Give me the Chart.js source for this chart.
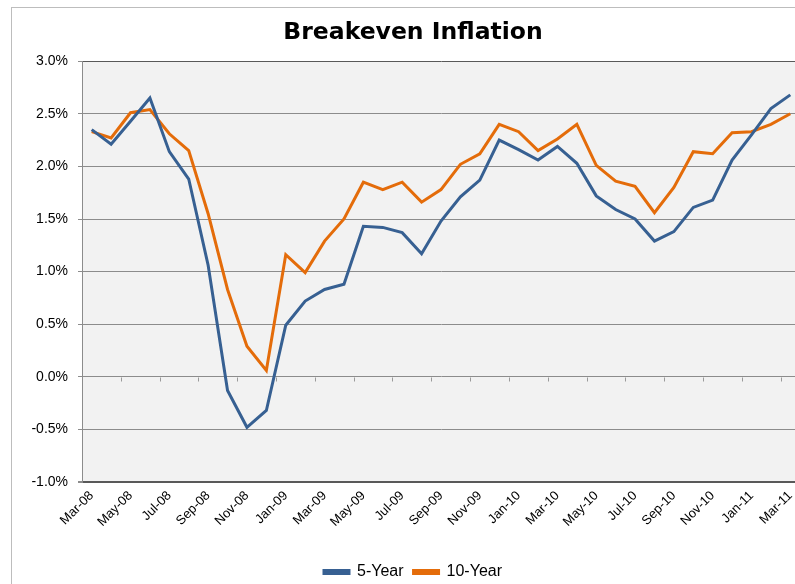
<!DOCTYPE html>
<html lang="en">
<head>
    <meta charset="UTF-8">
    <title>Breakeven Inflation</title>
    <script src="https://cdn.jsdelivr.net/npm/chart.js"></script>
    <style>
        html, body { margin: 0; padding: 0; background: #fff; overflow: hidden; }
        #frame {
            position: absolute; left: 11px; top: 7px; width: 900px; height: 700px;
            border-left: 1.5px solid #bdbdbd; border-top: 1.5px solid #bdbdbd;
        }
        #wrap { position: absolute; left: 0; top: 0; width: 810px; height: 584px; }
    </style>
</head>
<body>
    <div id="frame"></div>
    <div id="wrap"><canvas id="chart"></canvas></div>

    <script>
        // months Mar-08 .. Mar-11
        const months = ['Mar-08','Apr-08','May-08','Jun-08','Jul-08','Aug-08','Sep-08','Oct-08','Nov-08','Dec-08',
            'Jan-09','Feb-09','Mar-09','Apr-09','May-09','Jun-09','Jul-09','Aug-09','Sep-09','Oct-09','Nov-09','Dec-09',
            'Jan-10','Feb-10','Mar-10','Apr-10','May-10','Jun-10','Jul-10','Aug-10','Sep-10','Oct-10','Nov-10','Dec-10',
            'Jan-11','Feb-11','Mar-11'];

        const fiveYear = [2.35, 2.21, 2.43, 2.65, 2.14, 1.88, 1.06, -0.13, -0.48, -0.32,
            0.49, 0.72, 0.83, 0.88, 1.43, 1.42, 1.37, 1.17, 1.48, 1.71, 1.87, 2.25,
            2.16, 2.06, 2.19, 2.03, 1.72, 1.59, 1.50, 1.29, 1.38, 1.61, 1.68, 2.06,
            2.30, 2.55, 2.68];

        const tenYear = [2.33, 2.27, 2.51, 2.54, 2.31, 2.15, 1.55, 0.83, 0.29, 0.06,
            1.16, 0.99, 1.29, 1.50, 1.85, 1.78, 1.85, 1.66, 1.78, 2.02, 2.12, 2.40,
            2.33, 2.15, 2.26, 2.40, 2.01, 1.86, 1.81, 1.56, 1.80, 2.14, 2.12, 2.32,
            2.33, 2.40, 2.50];

        const yMin = -1.0, yMax = 3.0, yStep = 0.5;

        // grey plot background + tick marks on the zero line
        const plotDecor = {
            id: 'plotDecor',
            beforeDraw(chart) {
                const { ctx, chartArea: a } = chart;
                ctx.save();
                ctx.fillStyle = '#f2f2f2';
                ctx.fillRect(a.left, a.top, a.right - a.left, a.bottom - a.top);
                ctx.restore();
            },
            afterDatasetsDraw(chart) {
                const { ctx, scales } = chart;
                const x = scales.x, y = scales.y;
                const y0 = Math.round(y.getPixelForValue(0)) + 0.5;
                const half = (x.getPixelForValue(1) - x.getPixelForValue(0)) / 2;
                ctx.save();
                ctx.strokeStyle = '#9a9a9a';
                ctx.lineWidth = 1;
                for (let i = 2; i < months.length; i += 2) {
                    const px = Math.round(x.getPixelForValue(i) - half) + 0.5;
                    ctx.beginPath();
                    ctx.moveTo(px, y0);
                    ctx.lineTo(px, y0 + 4);
                    ctx.stroke();
                }
                ctx.restore();
            }
        };

        new Chart(document.getElementById('chart'), {
            type: 'line',
            data: {
                labels: months,
                datasets: [{
                    label: '5-Year',
                    data: fiveYear,
                    borderColor: '#376092',
                    backgroundColor: '#376092',
                    borderWidth: 3,
                    pointRadius: 0,
                    tension: 0
                }, {
                    label: '10-Year',
                    data: tenYear,
                    borderColor: '#e46c0a',
                    backgroundColor: '#e46c0a',
                    borderWidth: 3,
                    pointRadius: 0,
                    tension: 0
                }]
            },
            options: {
                responsive: true,
                maintainAspectRatio: false,
                animation: false,
                layout: { padding: { left: 26, right: 10, top: 0, bottom: -6 } },
                plugins: {
                    title: {
                        display: true,
                        text: 'Breakeven Inflation',
                        color: '#000',
                        font: { family: 'DejaVu Sans', size: 23.5, weight: 'bold' },
                        padding: { top: 19, bottom: 14 }
                    },
                    legend: {
                        position: 'bottom',
                        labels: {
                            color: '#000',
                            font: { family: 'Liberation Sans', size: 16 },
                            boxWidth: 25,
                            boxHeight: 3,
                            padding: 10
                        }
                    },
                    tooltip: { enabled: false }
                },
                scales: {
                    x: {
                        offset: true,
                        grid: { display: false, drawTicks: false },
                        border: { display: false },
                        afterFit(scale) { scale.height = 72; },
                        ticks: {
                            autoSkip: false,
                            minRotation: 45,
                            maxRotation: 45,
                            padding: 6,
                            color: '#000',
                            font: { family: 'Liberation Sans', size: 13 },
                            callback: function (v, i) { return i % 2 === 0 ? months[i] : ''; }
                        }
                    },
                    y: {
                        min: yMin,
                        max: yMax,
                        afterFit(scale) { scale.width = 56; },
                        border: { display: true, color: '#8c8c8c', width: 1 },
                        grid: {
                            color: (c) => (c.tick && (c.tick.value === yMax || c.tick.value === yMin)) ? '#595959' : '#8c8c8c',
                            lineWidth: (c) => (c.tick && c.tick.value === yMin) ? 2 : 1,
                            tickLength: 4,
                            tickColor: '#8c8c8c'
                        },
                        ticks: {
                            stepSize: yStep,
                            padding: 10,
                            color: '#000',
                            font: { family: 'Liberation Sans', size: 14 },
                            callback: (v) => v.toFixed(1) + '%'
                        }
                    }
                }
            },
            plugins: [plotDecor]
        });
    </script>
</body>
</html>
